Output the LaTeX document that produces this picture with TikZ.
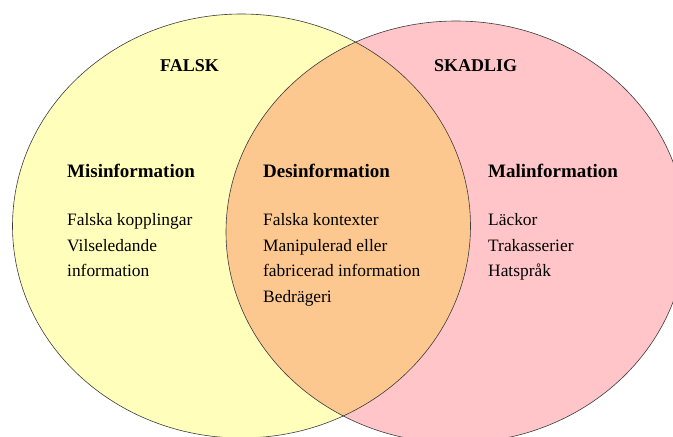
\documentclass[tikz,border=0pt]{standalone}
\usepackage{fontspec}
\setmainfont{Liberation Serif}
\usepackage{xcolor}
\usetikzlibrary{positioning}
\definecolor{falskgul}{RGB}{255,255,187}
\definecolor{skadligrosa}{RGB}{255,197,201}
\definecolor{overlapp}{RGB}{253,200,143}
\definecolor{kant}{RGB}{60,60,60}

\begin{document}
\begin{tikzpicture}[x=1pt, y=1pt,
	rubrik/.style = {anchor=base west, inner sep=0pt, font=\fontsize{18}{22}\selectfont\bfseries},
	typ/.style = {rubrik, font=\fontsize{19}{23}\selectfont\bfseries},
	lista/.style = {align=left, inner sep=0pt, font=\fontsize{17.4}{25.8}\selectfont}]
	\clip (0,0) rectangle (673,437);
	\coordinate (f) at (241.5,211);
	\coordinate (s) at (456,205);
	% cirklarna
	\fill[falskgul] (f) ellipse [x radius=229, y radius=212];
	\fill[skadligrosa] (s) ellipse [x radius=230, y radius=211];
	\begin{scope}
		\clip (f) ellipse [x radius=229, y radius=212];
		\fill[overlapp] (s) ellipse [x radius=230, y radius=211];
	\end{scope}
	\draw[kant, line width=0.6pt] (f) ellipse [x radius=229, y radius=212];
	\draw[kant, line width=0.6pt] (s) ellipse [x radius=230, y radius=211];
	% rubriker
	\node[rubrik] (falsk) at (160,365) {FALSK};
	\node[rubrik] (skadlig) at (434,365) {SKADLIG};
	\node[typ] (mis) at (67,259) {Misinformation};
	\node[typ] (des) at (263,259) {Desinformation};
	\node[typ] (mal) at (488,259) {Malinformation};
	% listor
	\node[lista] (mislista) [below=35pt of mis.base west, anchor=north west] {Falska kopplingar\\Vilseledande\\information};
	\node[lista] (deslista) [below=35pt of des.base west, anchor=north west] {Falska kontexter\\Manipulerad eller\\fabricerad information\\Bedrägeri};
	\node[lista] (mallista) [below=35pt of mal.base west, anchor=north west] {Läckor\\Trakasserier\\Hatspråk};
\end{tikzpicture}
\end{document}
